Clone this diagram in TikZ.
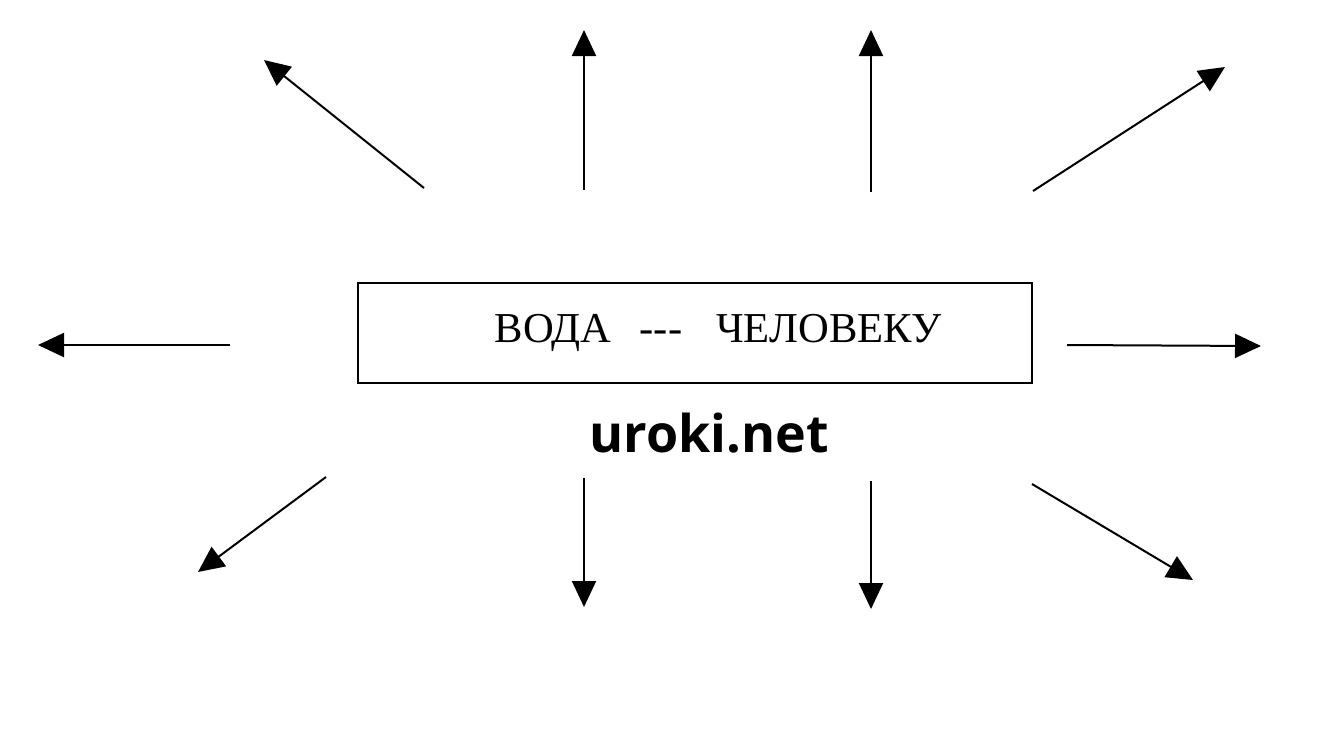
\documentclass[tikz,border=0pt]{standalone}
\usepackage{fontspec}
\setmainfont{Liberation Serif}
\newfontfamily\sitefont{Open Sans}
\usetikzlibrary{arrows.meta}

\begin{document}
\begin{tikzpicture}[x=0.5pt,y=-0.5pt]
  \tikzset{TitleStyle/.style = {
    shape         = rectangle,
    draw          = black,
    line width    = 1pt,
    text          = black,
    inner sep     = 0pt,
    minimum width = 337pt,
    minimum height= 50pt,
    font          = \fontsize{21.3}{24}\selectfont
    }
  }
  \tikzset{SiteStyle/.style = {
    text          = black,
    inner sep     = 0pt,
    font          = \sitefont\bfseries\fontsize{26}{30}\selectfont
    }
  }
  \tikzset{RayStyle/.style = {
    draw          = black,
    line width    = 1pt,
    -{Triangle[length=13pt,width=12pt]}
    }
  }
  \useasboundingbox (0,0) rectangle (1339,730);

  \node[TitleStyle](Title) at (695,333) {\hspace*{23pt}ВОДА\hspace{14pt}{-}{-}{-}\hspace{17pt}ЧЕЛОВЕКУ};
  \node[SiteStyle, anchor=base](Site) at (709,452) {uroki.net};

  \coordinate (S1) at (424,188);  \coordinate (E1) at (264,60);
  \coordinate (S2) at (584,190);  \coordinate (E2) at (584,30);
  \coordinate (S3) at (871,192);  \coordinate (E3) at (871,30);
  \coordinate (S4) at (1033,191); \coordinate (E4) at (1225,67);
  \coordinate (S5) at (230,345);  \coordinate (E5) at (38,345);
  \coordinate (S6) at (1067,345); \coordinate (E6) at (1261,346);
  \coordinate (S7) at (326,477);  \coordinate (E7) at (198,572);
  \coordinate (S8) at (584,478);  \coordinate (E8) at (584,607);
  \coordinate (S9) at (871,481);  \coordinate (E9) at (871,609);
  \coordinate (S10) at (1032,484); \coordinate (E10) at (1193,580);

  \draw[RayStyle](S1) -- (E1);
  \draw[RayStyle](S2) -- (E2);
  \draw[RayStyle](S3) -- (E3);
  \draw[RayStyle](S4) -- (E4);
  \draw[RayStyle](S5) -- (E5);
  \draw[RayStyle](S6) -- (E6);
  \draw[RayStyle](S7) -- (E7);
  \draw[RayStyle](S8) -- (E8);
  \draw[RayStyle](S9) -- (E9);
  \draw[RayStyle](S10) -- (E10);

\end{tikzpicture}
\end{document}
